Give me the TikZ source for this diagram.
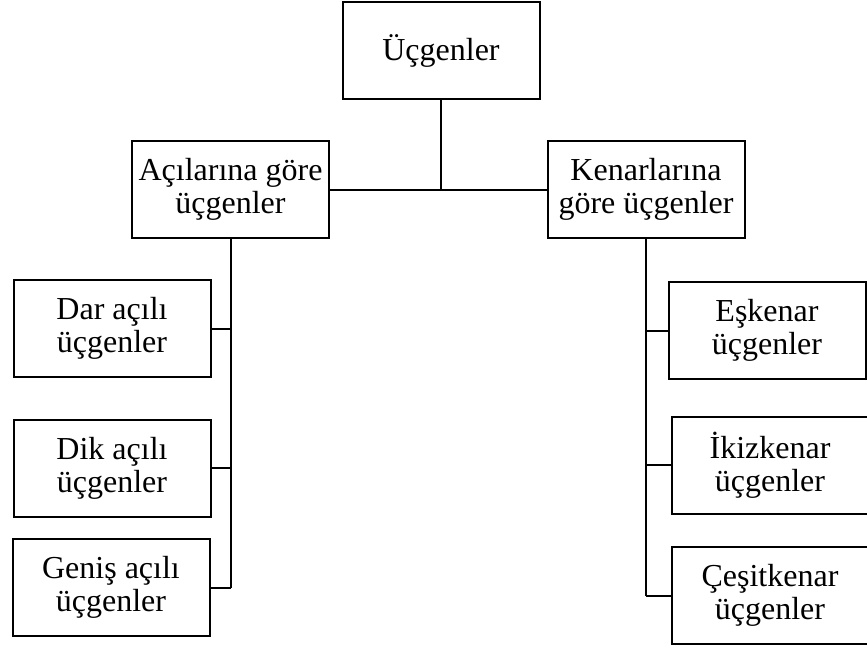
\documentclass[tikz,border=0pt]{standalone}
\usepackage{fontspec}
\setmainfont{Liberation Serif}
\usetikzlibrary{calc}

\tikzset{
  kutu/.style={draw, line width=2pt, minimum width=197pt, minimum height=97pt,
    inner sep=0pt, align=center, font=\fontsize{32}{33}\selectfont},
  bag/.style={line width=2pt}
}

\begin{document}
\begin{tikzpicture}[x=1pt,y=-1pt]
\useasboundingbox (0,0) rectangle (867,648);
% Kutular
\node[kutu] (ucg) at (441,50.5) {Üçgenler};
\node[kutu] (aci) at (230.5,189.5) {Açılarına göre\\üçgenler};
\node[kutu] (ken) at (646,189.5) {Kenarlarına\\göre üçgenler};
\node[kutu] (dar) at (112,328.5) {Dar açılı\\üçgenler};
\node[kutu] (dik) at (112,468) {Dik açılı\\üçgenler};
\node[kutu] (gen) at (111,587.5) {Geniş açılı\\üçgenler};
\node[kutu] (esk) at (767,330.5) {Eşkenar\\üçgenler};
\node[kutu] (iki) at (770,465) {İkizkenar\\üçgenler};
\node[kutu] (ces) at (770,595.5) {Çeşitkenar\\üçgenler};
% Bağlantılar
\draw[bag] (ucg.south) -- (ucg.south |- aci.east);
\draw[bag] (aci.east) -- (ken.west);
\draw[bag] (aci.south) -- (aci.south |- gen.east);
\draw[bag] (dar.east) -- (dar.east -| aci.south);
\draw[bag] (dik.east) -- (dik.east -| aci.south);
\draw[bag] (gen.east) -- (gen.east -| aci.south);
\draw[bag] (ken.south) -- (ken.south |- ces.west);
\draw[bag] (esk.west) -- (esk.west -| ken.south);
\draw[bag] (iki.west) -- (iki.west -| ken.south);
\draw[bag] (ces.west) -- (ces.west -| ken.south);
\end{tikzpicture}
\end{document}
